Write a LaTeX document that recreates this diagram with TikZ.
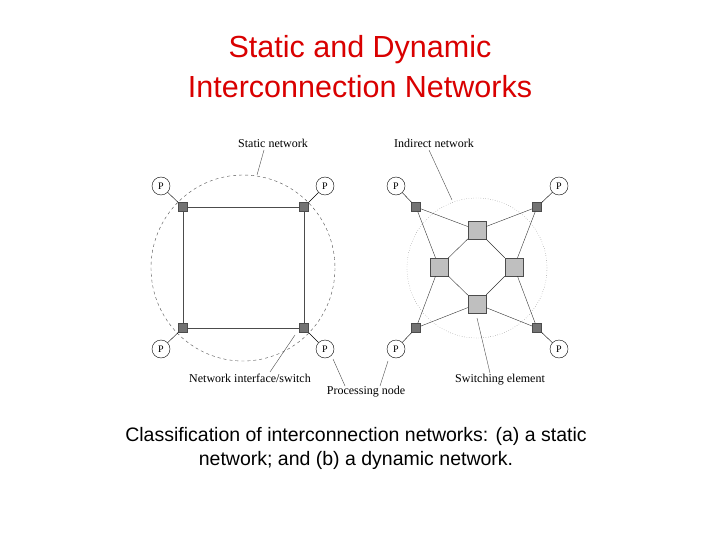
\documentclass[tikz,border=0pt]{standalone}
\usepackage{fontspec}
\setmainfont{Liberation Serif}
\newfontfamily\arial{Liberation Sans}
\begin{document}
\begin{tikzpicture}[x=1pt,y=-1pt,
 pnode/.style={draw,circle,minimum size=18pt,inner sep=0pt,font=\fontsize{10}{11}\selectfont,fill=white},
 ni/.style={draw=black!70,fill=black!55,minimum size=9pt,inner sep=0pt},
 se/.style={draw=black!70,fill=black!25,minimum size=18pt,inner sep=0pt},
 lbl/.style={font=\fontsize{12}{13}\selectfont,inner sep=1pt},
 lead/.style={black!70,thin}]
\useasboundingbox (0,0) rectangle (720,540);
\node[font=\arial\fontsize{30.5}{40}\selectfont,text=red!85!black,align=center] (title) at (360,67) {Static and Dynamic\\Interconnection Networks};
% left network
\draw[dashed,black!70] (243,268) ellipse (92 and 93);
\node[ni] (a1) at (183,207) {}; \node[ni] (a2) at (304,207) {};
\node[ni] (a3) at (183,328) {}; \node[ni] (a4) at (304,328) {};
\draw[black!70] (a1)--(a2)--(a4)--(a3)--(a1);
\node[pnode] (p1) at (161,186) {P}; \node[pnode] (p2) at (325,186) {P};
\node[pnode] (p3) at (161,349) {P}; \node[pnode] (p4) at (325,349) {P};
\draw (p1)--(a1); \draw (p2)--(a2); \draw (p3)--(a3); \draw (p4)--(a4);
% right network
\draw[dotted,black!60] (477,268) circle (70);
\node[se] (s1) at (477,230) {}; \node[se] (s2) at (439,267) {};
\node[se] (s3) at (514,267) {}; \node[se] (s4) at (477,304) {};
\draw[black!80] (s1)--(s2)--(s4)--(s3)--(s1);
\node[ni] (b1) at (416,207) {}; \node[ni] (b2) at (537,207) {};
\node[ni] (b3) at (416,328) {}; \node[ni] (b4) at (537,328) {};
\draw[black!80] (b1)--(s1) (b1)--(s2) (b2)--(s1) (b2)--(s3)
 (b3)--(s2) (b3)--(s4) (b4)--(s3) (b4)--(s4);
\node[pnode] (q1) at (396,186) {P}; \node[pnode] (q2) at (559,186) {P};
\node[pnode] (q3) at (396,349) {P}; \node[pnode] (q4) at (559,349) {P};
\draw (q1)--(b1); \draw (q2)--(b2); \draw (q3)--(b3); \draw (q4)--(b4);
% labels
\node[lbl] (l1) at (273,143) {Static network};
\node[lbl] (l2) at (434,143) {Indirect network};
\node[lbl] (l3) at (250,378) {Network interface/switch};
\node[lbl] (l4) at (366,392) {Processing node};
\node[lbl] (l5) at (500,380) {Switching element};
\coordinate (c1) at (257,175); \coordinate (c2) at (452,200);
\coordinate (c3) at (295,335); \coordinate (c4a) at (333,359);
\coordinate (c4b) at (388,361); \coordinate (c5) at (477,318);
\draw[lead] (264,150) .. controls (260,162) .. (c1);
\draw[lead] (429,150) -- (c2);
\draw[lead] (270,372) -- (c3);
\draw[lead] (345,386) -- (c4a);
\draw[lead] (380,386) -- (c4b);
\draw[lead] (490,373) -- (c5);
% caption
\node[font=\arial\fontsize{19.5}{24}\selectfont,align=center] (cap) at (356,448) {Classification of interconnection networks: (a) a static\\network; and (b) a dynamic network.};
\end{tikzpicture}
\end{document}
